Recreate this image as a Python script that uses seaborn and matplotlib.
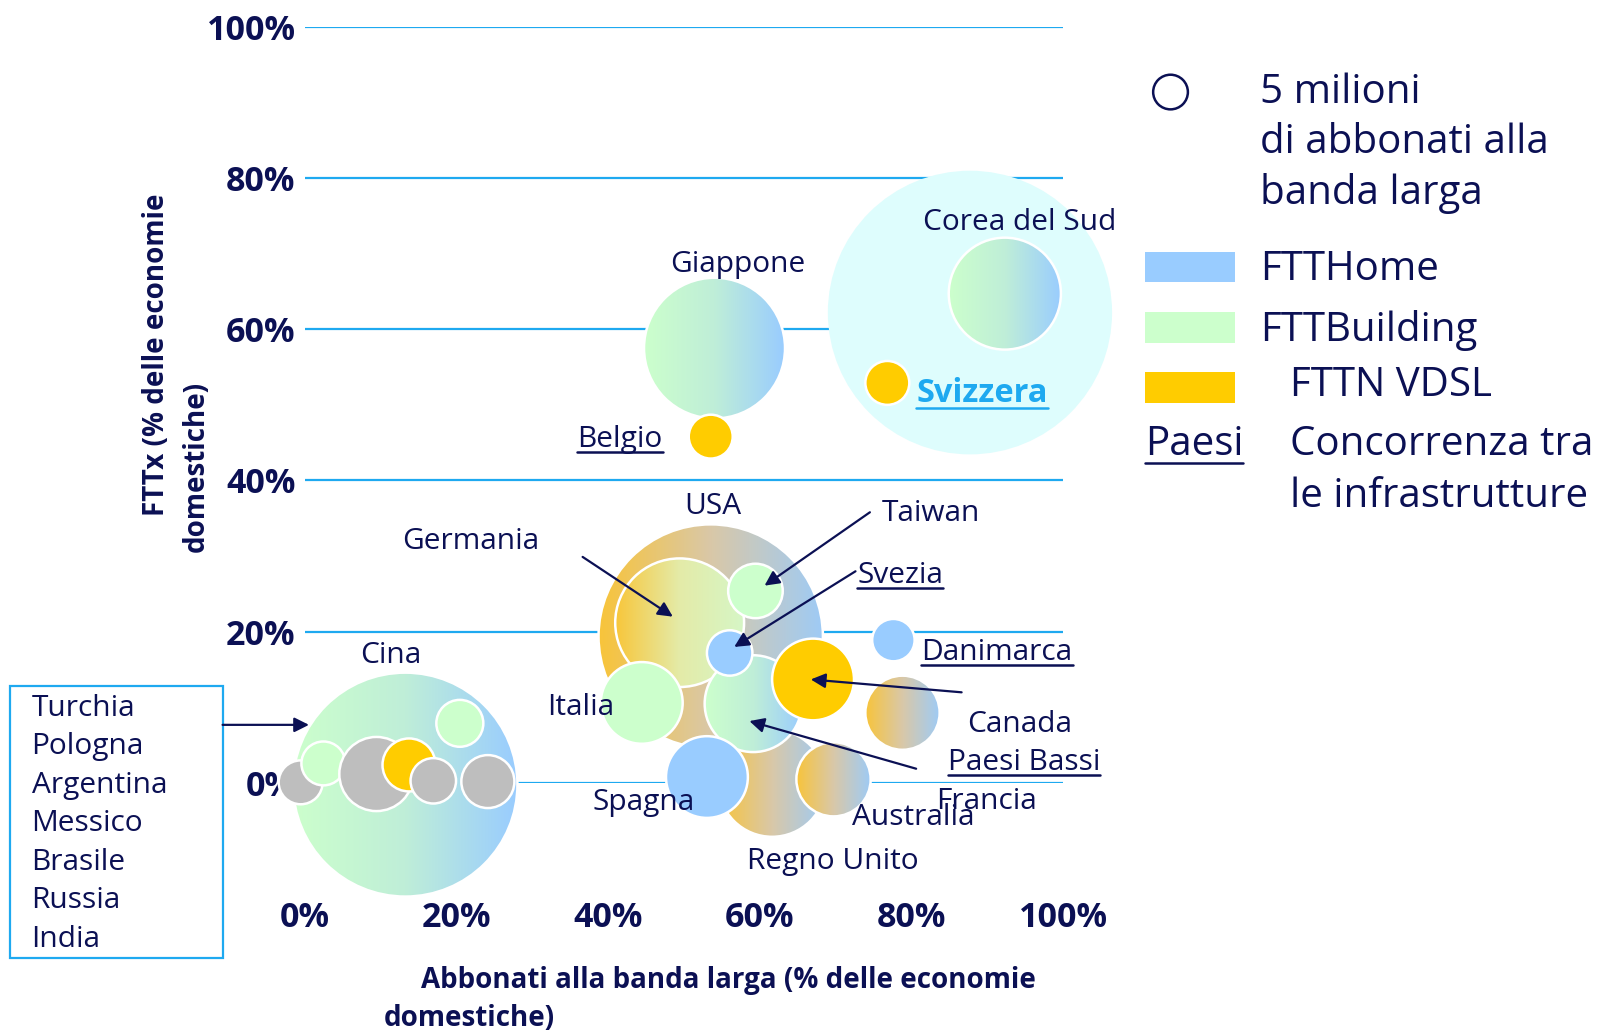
"""
Bubble chart: FTTx coverage vs broadband penetration per country,
with gradient bubbles for mixed fibre technologies.
"""

import matplotlib
matplotlib.use("Agg")
import matplotlib.pyplot as plt
import numpy as np
import seaborn as sns
from matplotlib.colors import LinearSegmentedColormap
from matplotlib.patches import Circle, Rectangle

sns.set_theme(style="white")
plt.rcParams['font.family'] = ['Open Sans', 'DejaVu Sans']

NAVY = '#0b1054'
GRID_BLUE = '#1ea9f0'
FTTH = '#99ccff'
FTTB = '#ccffcc'
VDSL = '#ffcc00'
OTHER = '#bebebe'
HALO = '#defdfd'

FILLS = {
    'ftth': [FTTH, FTTH],
    'fttb': [FTTB, FTTB],
    'vdsl': [VDSL, VDSL],
    'other': [OTHER, OTHER],
    'fttb_ftth': ['#ccffcc', '#bfeed8', '#99ccff'],
    'vdsl_ftth': ['#f8c43a', '#d9c8a8', '#9ecbf6'],
    'vdsl_fttb': ['#f8c63a', '#e4eba8', '#d6f6c6'],
}

# --- dati (quota su 1 = 100%) ---------------------------------------------
bubble_names = ['Regno Unito', 'USA', 'Germania', 'Paesi Bassi', 'Italia',
                'Taiwan', 'Svezia', 'Canada', 'Danimarca', 'Francia',
                'Australia', 'Spagna', 'Giappone', 'Belgio', 'Corea del Sud',
                'Svizzera', 'Cina',
                'gruppo_1', 'gruppo_2', 'gruppo_3', 'gruppo_4',
                'gruppo_5', 'gruppo_6', 'gruppo_7']
bubble_x = [0.616, 0.535, 0.494, 0.591, 0.444,
            0.594, 0.560, 0.670, 0.776, 0.788,
            0.697, 0.530, 0.540, 0.535, 0.923,
            0.768, 0.132,
            -0.006, 0.024, 0.094, 0.137,
            0.169, 0.204, 0.241]
bubble_y = [0.000, 0.194, 0.212, 0.105, 0.106,
            0.254, 0.172, 0.137, 0.189, 0.093,
            0.005, 0.008, 0.575, 0.458, 0.647,
            0.529, -0.002,
            0.001, 0.026, 0.012, 0.024,
            0.003, 0.079, 0.002]
bubble_r = [0.071, 0.148, 0.085, 0.064, 0.054,
            0.036, 0.030, 0.054, 0.028, 0.049,
            0.049, 0.054, 0.093, 0.029, 0.074,
            0.029, 0.148,
            0.029, 0.029, 0.049, 0.035,
            0.030, 0.031, 0.035]
bubble_fill = ['vdsl_ftth', 'vdsl_ftth', 'vdsl_fttb', 'fttb_ftth', 'fttb',
               'fttb', 'ftth', 'vdsl', 'ftth', 'vdsl_ftth',
               'vdsl_ftth', 'ftth', 'fttb_ftth', 'vdsl', 'fttb_ftth',
               'vdsl', 'fttb_ftth',
               'other', 'fttb', 'other', 'vdsl',
               'other', 'fttb', 'other']

halo_x, halo_y, halo_r = 0.877, 0.622, 0.1875   # concorrenza in Corea / Svizzera

group_countries = ['Turchia', 'Pologna', 'Argentina', 'Messico',
                   'Brasile', 'Russia', 'India']

tick_values = [0.0, 0.2, 0.4, 0.6, 0.8, 1.0]
tick_labels = ['0%', '20%', '40%', '60%', '80%', '100%']

# etichette: nome, x, y, allineamento, sottolineato
labels = [
    ('Giappone', 0.571, 0.686, 'center', False),
    ('Corea del Sud', 0.943, 0.741, 'center', False),
    ('Belgio', 0.359, 0.454, 'left', True),
    ('USA', 0.538, 0.366, 'center', False),
    ('Germania', 0.218, 0.319, 'center', False),
    ('Taiwan', 0.760, 0.356, 'left', False),
    ('Svezia', 0.728, 0.274, 'left', True),
    ('Danimarca', 0.813, 0.172, 'left', True),
    ('Canada', 0.873, 0.078, 'left', False),
    ('Paesi Bassi', 0.848, 0.027, 'left', True),
    ('Francia', 0.832, -0.024, 'left', False),
    ('Australia', 0.721, -0.046, 'left', False),
    ('Regno Unito', 0.696, -0.104, 'center', False),
    ('Spagna', 0.446, -0.026, 'center', False),
    ('Italia', 0.364, 0.100, 'center', False),
    ('Cina', 0.113, 0.169, 'center', False),
]

# frecce: (da x, da y) -> (a x, a y)
arrows = [
    (0.366, 0.299, 0.485, 0.220),
    (0.745, 0.358, 0.606, 0.261),
    (0.726, 0.280, 0.566, 0.180),
    (0.866, 0.120, 0.667, 0.137),
    (0.806, 0.019, 0.586, 0.082),
    (-0.109, 0.077, 0.005, 0.077),
]

LABEL_SIZE = 21.5
LEGEND_SIZE = 29


def draw_bubble(ax, fig, x, y, r, fill, z):
    colors = FILLS[fill]
    if colors[0] == colors[-1]:
        ax.add_patch(Circle((x, y), r, facecolor=colors[0], edgecolor='white',
                            lw=1.8, zorder=z, clip_on=False))
        return
    cmap = LinearSegmentedColormap.from_list(fill, colors)
    grad = np.linspace(0, 1, 256).reshape(1, -1)
    im = ax.imshow(grad, cmap=cmap, extent=[x - r, x + r, y - r, y + r],
                   aspect='auto', interpolation='bilinear', zorder=z)
    im.set_clip_box(fig.bbox)
    im.set_clip_path(Circle((x, y), r, transform=ax.transData))
    ax.add_patch(Circle((x, y), r, facecolor='none', edgecolor='white',
                        lw=1.8, zorder=z + 0.01, clip_on=False))


fig = plt.figure(figsize=(16.03, 10.31), dpi=100)
ax = fig.add_axes([0.19039, 0.24045, 0.47286, 0.73375])

# alone della concorrenza (sotto la griglia)
ax.add_patch(Circle((halo_x, halo_y), halo_r, facecolor=HALO, edgecolor='none',
                    zorder=1, clip_on=False))

for i, (name, x, y, r, fill) in enumerate(zip(bubble_names, bubble_x, bubble_y,
                                              bubble_r, bubble_fill)):
    draw_bubble(ax, fig, x, y, r, fill, 3 + i * 0.05)

ax.set_xlim(0, 1)
ax.set_ylim(0, 1)
ax.set_xticks(tick_values)
ax.set_xticklabels(tick_labels)
ax.set_yticks(tick_values)
ax.set_yticklabels(tick_labels)
ax.tick_params(axis='both', length=0, labelsize=24.5, labelcolor=NAVY)
ax.tick_params(axis='x', pad=85)
ax.tick_params(axis='y', pad=7)
for t in ax.get_xticklabels() + ax.get_yticklabels():
    t.set_fontweight('bold')
ax.yaxis.grid(True, color=GRID_BLUE, lw=1.6)
ax.xaxis.grid(False)
sns.despine(ax=ax, left=True, bottom=True)

# titoli degli assi
ax.text(0.153, -0.261, 'Abbonati alla banda larga (% delle economie',
        fontsize=20, fontweight='bold', color=NAVY, ha='left', va='center',
        clip_on=False)
ax.text(0.103, -0.311, 'domestiche)', fontsize=20, fontweight='bold',
        color=NAVY, ha='left', va='center', clip_on=False)
ax.text(-0.196, 0.353, 'FTTx (% delle economie', rotation=90, fontsize=20,
        fontweight='bold', color=NAVY, ha='center', va='bottom', clip_on=False)
ax.text(-0.144, 0.305, 'domestiche)', rotation=90, fontsize=20,
        fontweight='bold', color=NAVY, ha='center', va='bottom', clip_on=False)

underlined = []
for name, x, y, ha, ul in labels:
    t = ax.text(x, y, name, fontsize=LABEL_SIZE, color=NAVY, ha=ha,
                va='center', zorder=10, clip_on=False)
    if ul:
        underlined.append((t, NAVY))

t = ax.text(0.806, 0.515, 'Svizzera', fontsize=23.5, fontweight='bold',
            color=GRID_BLUE, ha='left', va='center', zorder=10, clip_on=False)
underlined.append((t, GRID_BLUE))

for x0, y0, x1, y1 in arrows:
    ax.annotate('', xy=(x1, y1), xytext=(x0, y0), annotation_clip=False,
                arrowprops=dict(arrowstyle='-|>', color=NAVY, lw=1.6,
                                mutation_scale=22, shrinkA=0, shrinkB=0),
                zorder=11)

# riquadro con i paesi emergenti
ax.add_patch(Rectangle((-0.389, -0.231), 0.280, 0.359, facecolor='none',
                       edgecolor=GRID_BLUE, lw=1.6, clip_on=False))
for k, c in enumerate(group_countries):
    ax.text(-0.361, 0.099 - k * 0.0509, c, fontsize=LABEL_SIZE, color=NAVY,
            ha='left', va='center', clip_on=False)

# legenda
ax.add_patch(Circle((1.1416, 0.9135), 0.0229, facecolor='white',
                    edgecolor=NAVY, lw=1.8, clip_on=False))
for k, line in enumerate(['5 milioni', 'di abbonati alla', 'banda larga']):
    ax.text(1.2603, 0.913 - k * 0.0669, line, fontsize=LEGEND_SIZE,
            color=NAVY, ha='left', va='center', clip_on=False)

legend_items = [(FTTH, 'FTTHome', 1.2603, 0.6784, 0.6622),
                (FTTB, 'FTTBuilding', 1.2603, 0.5987, 0.5824),
                (VDSL, 'FTTN VDSL', 1.2988, 0.5257, 0.5027)]
for col, txt, tx, ty, ry in legend_items:
    ax.add_patch(Rectangle((1.1079, ry), 0.1187, 0.0405, facecolor=col,
                           edgecolor='none', clip_on=False))
    ax.text(tx, ty, txt, fontsize=LEGEND_SIZE, color=NAVY, ha='left',
            va='center', clip_on=False)
t = ax.text(1.1079, 0.4474, 'Paesi', fontsize=LEGEND_SIZE, color=NAVY,
            ha='left', va='center', clip_on=False)
underlined.append((t, NAVY))
ax.text(1.2988, 0.4474, 'Concorrenza tra', fontsize=LEGEND_SIZE, color=NAVY,
        ha='left', va='center', clip_on=False)
ax.text(1.2988, 0.3784, 'le infrastrutture', fontsize=LEGEND_SIZE,
        color=NAVY, ha='left', va='center', clip_on=False)

# sottolineature
fig.canvas.draw()
renderer = fig.canvas.get_renderer()
inv = ax.transData.inverted()
for t, col in underlined:
    bb = t.get_window_extent(renderer)
    (ux0, uy), (ux1, _) = inv.transform([(bb.x0, bb.y0 + 2), (bb.x1, bb.y0 + 2)])
    ax.plot([ux0, ux1], [uy, uy], color=col, lw=1.8, clip_on=False, zorder=10)

fig.savefig('out.png', dpi=100)
